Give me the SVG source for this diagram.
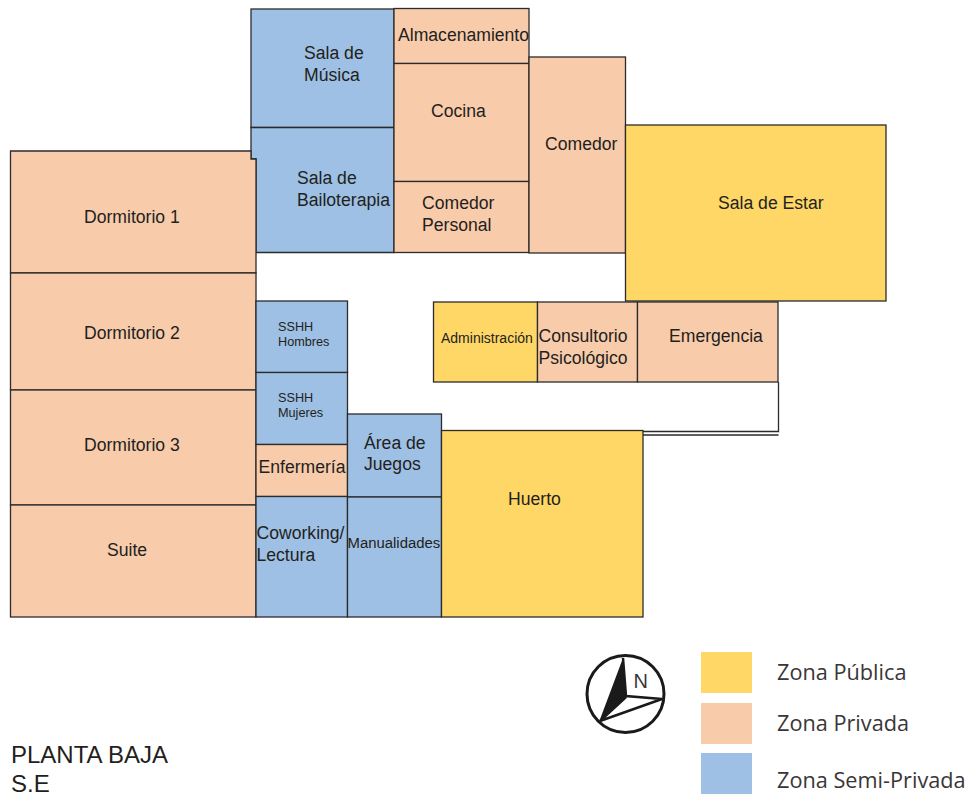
<svg xmlns="http://www.w3.org/2000/svg" width="969" height="796" viewBox="0 0 969 796">
<style>
text{font-family:"Liberation Sans",Arial,sans-serif;fill:#231f20;font-size:17.6px}
.r{stroke:#2b2b2b;stroke-width:1.3}
.pub{fill:#fed766}.pri{fill:#f8cbab}.sem{fill:#9dc0e4}
text.s{font-size:12.7px}text.xs{font-size:14px}text.m{font-size:14.9px}
text.leg{font-family:"Open Sans","Noto Sans",sans-serif;font-size:21.7px;fill:#3a3637}
text.t{font-size:24px}
</style>
<rect width="969" height="796" fill="#fff"/>
<g id="connectors" fill="none" stroke="#2b2b2b" stroke-width="1.3">
<path d="M643 431.500H778.500V382M643 435H778.500"/>
</g>
<g id="sala-musica"><rect class="r sem" x="251" y="9" width="143" height="118.500"/><text x="304" y="59">Sala de</text><text x="304" y="81">Música</text></g>
<g id="sala-bailoterapia"><path class="r sem" d="M251 127.500H394V252.500H256V159H251Z"/><text x="297" y="184">Sala de</text><text x="297" y="206">Bailoterapia</text></g>
<g id="almacenamiento"><rect class="r pri" x="394" y="8.500" width="135" height="55"/><text x="398" y="41">Almacenamiento</text></g>
<g id="cocina"><rect class="r pri" x="394" y="63.500" width="135" height="118"/><text x="431" y="117">Cocina</text></g>
<g id="comedor-personal"><rect class="r pri" x="394" y="181.500" width="135" height="71"/><text x="422" y="209">Comedor</text><text x="422" y="231">Personal</text></g>
<g id="comedor"><rect class="r pri" x="529" y="57" width="96.500" height="196"/><text x="545" y="150">Comedor</text></g>
<g id="sala-estar"><rect class="r pub" x="625.500" y="125" width="260.500" height="176"/><text x="718" y="209">Sala de Estar</text></g>
<g id="dormitorio-1"><path class="r pri" d="M10.500 151H251V159H256V273H10.500Z"/><text x="84" y="223">Dormitorio 1</text></g>
<g id="dormitorio-2"><rect class="r pri" x="10.500" y="273" width="245.500" height="117"/><text x="84" y="339">Dormitorio 2</text></g>
<g id="dormitorio-3"><rect class="r pri" x="10.500" y="390" width="245.500" height="115"/><text x="84" y="451">Dormitorio 3</text></g>
<g id="suite"><rect class="r pri" x="10.500" y="505" width="245.500" height="112"/><text x="107" y="556">Suite</text></g>
<g id="sshh-hombres"><rect class="r sem" x="256" y="301" width="91.500" height="71.500"/><text class="s" x="278" y="331">SSHH</text><text class="s" x="278" y="346">Hombres</text></g>
<g id="sshh-mujeres"><rect class="r sem" x="256" y="372.500" width="91.500" height="72"/><text class="s" x="278" y="402">SSHH</text><text class="s" x="278" y="417">Mujeres</text></g>
<g id="enfermeria"><rect class="r pri" x="256" y="444.500" width="91.500" height="52"/><text x="258.500" y="473">Enfermería</text></g>
<g id="coworking"><rect class="r sem" x="256" y="496.500" width="91.500" height="120.500"/><text x="256.500" y="539">Coworking/</text><text x="256.500" y="561">Lectura</text></g>
<g id="area-juegos"><rect class="r sem" x="347.500" y="414" width="94" height="83"/><text x="364" y="449">Área de</text><text x="364" y="470">Juegos</text></g>
<g id="manualidades"><rect class="r sem" x="347.500" y="497" width="94" height="120"/><text class="m" x="347.500" y="548">Manualidades</text></g>
<g id="huerto"><rect class="r pub" x="441.500" y="430.500" width="201.500" height="186.500"/><text x="508" y="505">Huerto</text></g>
<g id="administracion"><rect class="r pub" x="433.500" y="302" width="104" height="80"/><text class="xs" x="441" y="343">Administración</text></g>
<g id="consultorio"><rect class="r pri" x="537.500" y="302" width="100" height="80"/><text x="538.500" y="342">Consultorio</text><text x="538.500" y="364">Psicológico</text></g>
<g id="emergencia"><rect class="r pri" x="637.500" y="302" width="140.500" height="80"/><text x="669" y="342">Emergencia</text></g>
<g id="brujula">
<circle cx="625.500" cy="694" r="38.500" fill="#fff" stroke="#1a1a1a" stroke-width="3"/>
<path d="M623 658L599 722L626 697Z" fill="#1a1a1a"/>
<path d="M623 658L626 696L662 699L600 721L626 697" fill="none" stroke="#1a1a1a" stroke-width="2.500"/>
<text x="633.500" y="688" style="font-size:20px;fill:#3a3637">N</text>
</g>
<g id="leyenda">
<rect class="pub" x="701" y="652" width="51" height="41"/><text class="leg" x="777" y="680">Zona Pública</text>
<rect class="pri" x="701" y="703" width="51" height="41"/><text class="leg" x="777" y="731">Zona Privada</text>
<rect class="sem" x="701" y="753" width="51" height="41"/><text class="leg" x="777" y="788">Zona Semi-Privada</text>
</g>
<g id="titulo"><text class="t" x="11" y="763">PLANTA BAJA</text><text class="t" x="11" y="792">S.E</text></g>
</svg>
